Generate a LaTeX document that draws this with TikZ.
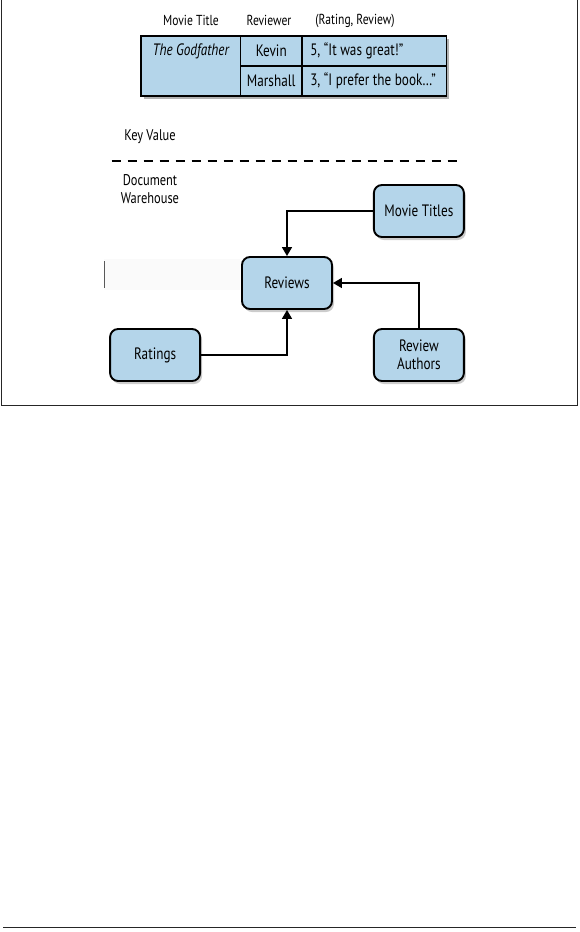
\documentclass[tikz,border=0pt]{standalone}
\usepackage{fontspec}
\setmainfont{PT Sans}[FakeStretch=0.8]
\usepackage{xcolor}
\usetikzlibrary{arrows.meta,positioning,shadows}
\definecolor{boxblue}{RGB}{180,213,234}
\newcommand\leftcell[1]{\makebox[128pt][l]{#1}}

\begin{document}
\begin{tikzpicture}[x=1pt,y=-1pt,>={Triangle[length=9pt,width=10pt]},
  cell/.style={draw,fill=boxblue,line width=1.9pt,outer sep=0pt,inner sep=0pt,
    minimum height=30pt,font=\fontsize{16.5}{18}\selectfont},
  rating/.style={cell,minimum width=144.5pt},
  entity/.style={draw,fill=boxblue,rounded corners=8pt,line width=1.9pt,
    minimum width=90pt,minimum height=52pt,align=center,
    font=\fontsize{16.5}{18.3}\selectfont,
    drop shadow={shadow xshift=2pt,shadow yshift=-3pt,opacity=0.4}},
  hdr/.style={font=\fontsize{14.5}{16}\selectfont},
  lbl/.style={align=center,font=\fontsize{15.5}{18}\selectfont},
  conn/.style={->,line width=1.5pt}]
\useasboundingbox (0,0) rectangle (579,932);
% page frame and rule
\draw[line width=1.5pt,black!85] (1.5,-2) rectangle (577.5,405.5);
\draw[line width=1.5pt,black!85] (3,927.5) -- (576,927.5);
% key value table
\node[hdr] (hmovie) at (191,20.7) {Movie Title};
\node[hdr] (hrev) at (269,20.7) {Reviewer};
\node[hdr] (hrate) at (355,20.7) {(Rating, Review)};
\fill[black,opacity=0.3] (143.5,39) rectangle (449,99);
\node[cell,minimum width=99.5pt,minimum height=60pt,anchor=north west] (title) at (141,36) {};
\node[font=\fontsize{16.5}{18}\selectfont\itshape] (godfather) at ([yshift=-15.5pt]title.north) {The Godfather};
\node[cell,minimum width=61.5pt,anchor=north west] (kevin) at (title.north east) {Kevin};
\node[cell,minimum width=61.5pt,below=0pt of kevin] (marshall) {Marshall};
\node[rating,right=0pt of kevin] (great) {\leftcell{5, “It was great!”}};
\node[rating,right=0pt of marshall] (book) {\leftcell{3, “I prefer the book…”}};
% separator
\node[lbl] (kv) at (150,137) {Key Value};
\draw[line width=1.8pt,dash pattern=on 9pt off 7pt] (111.7,160.7) -- (461.7,160.7);
\node[lbl] (docwh) at (150,189) {Document\\Warehouse};
\fill[black!2] (104,259) rectangle (240,290);
\draw[black!65,line width=1pt] (104.3,261) -- (104.3,288);
% document warehouse
\node[entity] (reviews) at (287,283) {Reviews};
\node[entity,right=40pt of reviews,yshift=72pt] (movies) {Movie Titles};
\node[entity,left=40pt of reviews,yshift=-72pt] (ratings) {Ratings};
\node[entity,right=40pt of reviews,yshift=-72pt] (authors) {Review\\Authors};
\draw[conn] (movies.west) -| (reviews.north);
\draw[conn] (ratings.east) -| (reviews.south);
\draw[conn] (authors.north) |- (reviews.east);
\end{tikzpicture}
\end{document}
